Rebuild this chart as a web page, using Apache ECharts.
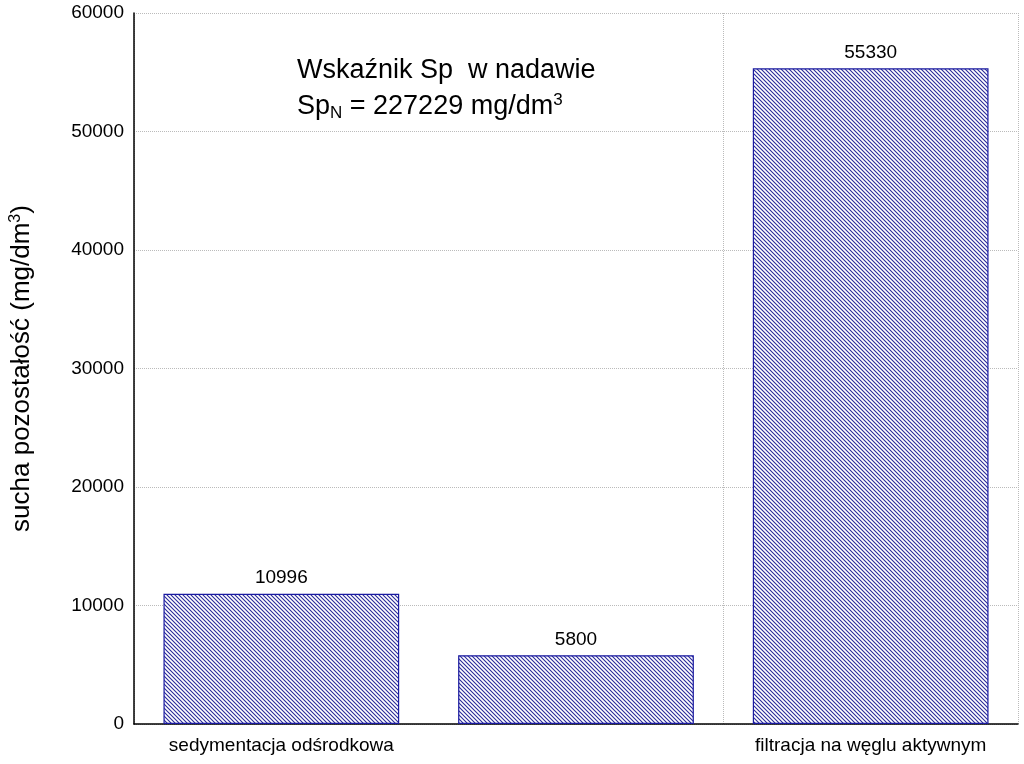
<!DOCTYPE html>
<html><head><meta charset="utf-8">
<script src="https://cdn.jsdelivr.net/npm/echarts@6/dist/echarts.min.js"></script>
<style>body{margin:0;background:#fff}#c{width:1024px;height:764px}</style></head>
<body><div id="c"></div>
<script>
const categories = ['sedymentacja odśrodkowa', 'filtracja na wiórach', 'filtracja na węglu aktywnym'];
const values = [10996, 5800, 55330];
const yTicks = [0, 10000, 20000, 30000, 40000, 50000, 60000];

const pc = document.createElement('canvas');
pc.width = 4; pc.height = 4;
const g = pc.getContext('2d');
g.fillStyle = '#ffffff'; g.fillRect(0,0,4,4);
g.strokeStyle = '#2a2a9a'; g.lineWidth = 1.1;
g.beginPath();
g.moveTo(-1,-1); g.lineTo(5,5);
g.moveTo(-1,3); g.lineTo(1,5);
g.moveTo(3,-1); g.lineTo(5,1);
g.stroke();

const chart = echarts.init(document.getElementById('c'));
const font = 'Liberation Sans, Arial, sans-serif';
chart.setOption({
  animation: false,
  backgroundColor: '#fff',
  grid: {left: 127, right: 6, top: 13, bottom: 40},
  title: {
    text: 'Wskaźnik Sp  w nadawie\nSp{sub|N} = 227229 mg/dm{sup|3}',
    left: 292, top: 48,
    textStyle: {fontFamily: font, fontSize: 27, fontWeight: 'normal', color: '#000', lineHeight: 36,
      rich: {sub: {fontSize: 17, padding: [12,0,0,0], fontFamily: font},
             sup: {fontSize: 17, padding: [0,0,14,0], fontFamily: font}}}
  },
  xAxis: {
    type: 'category', data: categories,
    axisLine: {lineStyle: {color: '#000', width: 1.5}},
    axisTick: {inside: true, length: 5, lineStyle: {color: '#000'}},
    axisLabel: {fontFamily: font, fontSize: 19, color: '#000', margin: 12},
    splitLine: {show: true, lineStyle: {color: '#bbb', type: 'dotted'}}
  },
  yAxis: {
    type: 'value', min: yTicks[0], max: yTicks[yTicks.length-1], interval: 10000,
    name: 'sucha pozostałość (mg/dm{sup|3})', nameLocation: 'middle', nameGap: 98,
    nameTextStyle: {fontFamily: font, fontSize: 26, color: '#000',
      rich: {sup: {fontSize: 16, padding: [0,0,12,0], fontFamily: font}}},
    axisLine: {show: true, lineStyle: {color: '#000', width: 1.5}},
    axisTick: {inside: true, length: 5, lineStyle: {color: '#000'}},
    axisLabel: {fontFamily: font, fontSize: 19, color: '#000', margin: 10, formatter: v => String(v)},
    splitLine: {show: true, lineStyle: {color: '#bbb', type: 'dotted'}}
  },
  series: [{
    type: 'bar', data: values, barWidth: '80%',
    itemStyle: {color: {image: pc, repeat: 'repeat'}, borderColor: '#1a1aa0', borderWidth: 1.2},
    label: {show: true, position: 'top', fontFamily: font, fontSize: 19, color: '#000', distance: 6}
  }]
});
</script></body></html>
